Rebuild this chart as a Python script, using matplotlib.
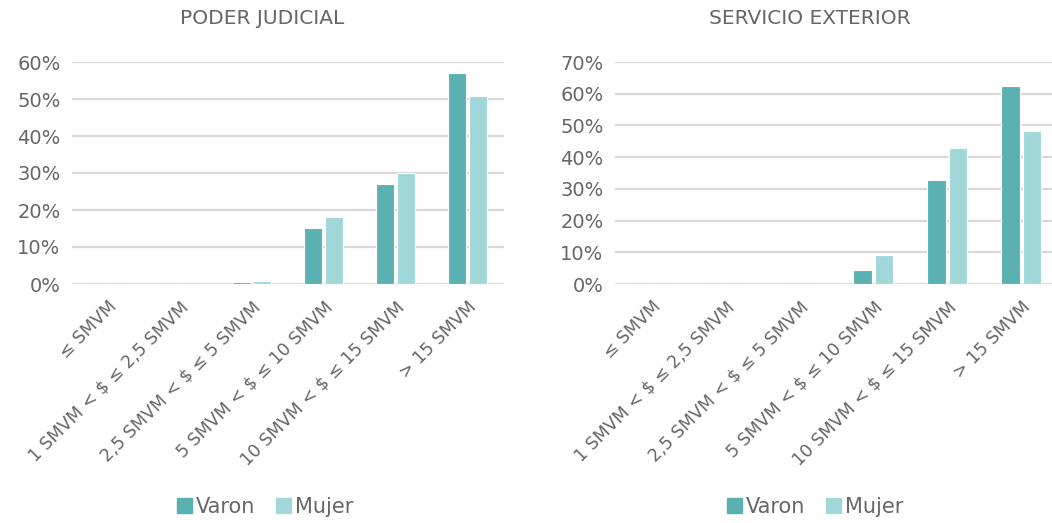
import matplotlib.pyplot as plt
import numpy as np
from matplotlib.patches import Patch

# categories and values (% of each sex)
categorias = ["≤ SMVM", "1 SMVM < $ ≤ 2,5 SMVM", "2,5 SMVM < $ ≤ 5 SMVM",
              "5 SMVM < $ ≤ 10 SMVM", "10 SMVM < $ ≤ 15 SMVM", "> 15 SMVM"]
judicial_varon = [0.0, 0.1, 0.5, 15.2, 27.0, 57.0]
judicial_mujer = [0.0, 0.1, 0.7, 18.0, 30.0, 50.8]
exterior_varon = [0.0, 0.05, 0.0, 4.4, 32.8, 62.5]
exterior_mujer = [0.0, 0.05, 0.0, 9.2, 42.9, 48.3]

C_VARON = "#5BB1B2"
C_MUJER = "#A0D7D9"
GRIS_TXT = "#666666"
GRIS_GRID = "#D9D9D9"

plt.rcParams['font.family'] = ['DejaVu Sans']

fig = plt.figure(figsize=(10.52, 5.23), dpi=100)
W, H = 1052, 523


def panel(x0, x1, ymax, varon, mujer, titulo, tcx, lcx):
    ax = fig.add_axes([x0 / W, (H - 284) / H, (x1 - x0) / W, 222 / H])
    x = np.arange(len(categorias))
    ax.bar(x - 0.145, varon, 0.25, color=C_VARON, edgecolor="white", linewidth=0.8, zorder=3)
    ax.bar(x + 0.145, mujer, 0.25, color=C_MUJER, edgecolor="white", linewidth=0.8, zorder=3)
    ax.set_xlim(-0.5, len(categorias) - 0.5)
    ax.set_ylim(0, ymax)
    ax.set_yticks(np.arange(0, ymax + 1, 10))
    ax.set_yticklabels([f"{v}%" for v in range(0, ymax + 1, 10)], fontsize=14, color=GRIS_TXT)
    ax.set_xticks(x)
    ax.set_xticklabels(categorias, rotation=45, ha="right", rotation_mode="anchor",
                       fontsize=12.5, color=GRIS_TXT)
    ax.tick_params(axis="both", length=0, pad=8)
    ax.tick_params(axis="x", pad=10)
    for s in ax.spines.values():
        s.set_visible(False)
    ax.grid(axis="y", color=GRIS_GRID, linewidth=1.6, zorder=0)
    ax.set_axisbelow(True)
    fig.text(tcx / W, 1 - 18 / H, titulo, ha="center", va="center", fontsize=14.5, color=GRIS_TXT)
    handles = [Patch(color=C_VARON, label="Varon"), Patch(color=C_MUJER, label="Mujer")]
    fig.legend(handles=handles, loc="center", bbox_to_anchor=(lcx / W, 1 - 507 / H),
               ncol=2, frameon=False, fontsize=15, handlelength=0.7, handleheight=0.7,
               handletextpad=0.2, columnspacing=1.0, labelcolor=GRIS_TXT)
    return ax


panel(71.5, 503.7, 60, judicial_varon, judicial_mujer, "PODER JUDICIAL", 262, 265)
panel(614.5, 1058, 70, exterior_varon, exterior_mujer, "SERVICIO EXTERIOR", 810, 815)

fig.savefig("out.png", dpi=100)
